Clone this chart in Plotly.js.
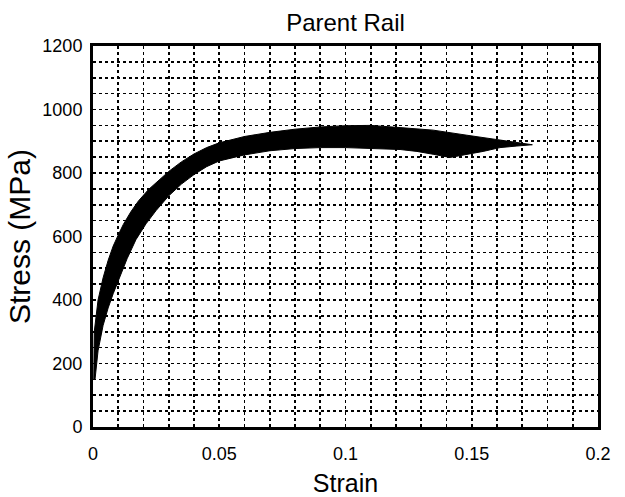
<!DOCTYPE html>
<html>
<head>
<meta charset="utf-8">
<script src="https://cdn.plot.ly/plotly-3.0.1.min.js"></script>
<style>html,body{margin:0;padding:0;background:#fff;}#chart{width:625px;height:497px;}</style>
</head>
<body>
<div id="chart"></div>
<script>
// Upper (left) edge of the stress-strain band, from origin to tip
const upperStrain = [0.0003, 0.0005, 0.002, 0.004, 0.006, 0.008, 0.010, 0.012, 0.015, 0.018, 0.022, 0.026, 0.030, 0.035, 0.040, 0.045, 0.05, 0.06, 0.07, 0.08, 0.09, 0.1, 0.11, 0.1216, 0.1347, 0.1481, 0.1612, 0.174];
const upperStress = [150, 300, 400, 470, 525, 570, 605, 638, 678, 712, 748, 778, 805, 835, 860, 880, 895, 915, 928, 938, 945, 949, 950, 943, 935, 919, 904, 889];
// Lower (right) edge of the band, from tip back to origin
const lowerStrain = [0.174, 0.1679, 0.1612, 0.1545, 0.1481, 0.1414, 0.1347, 0.1283, 0.1216, 0.11, 0.1, 0.09, 0.08, 0.07, 0.06, 0.05, 0.045, 0.04, 0.035, 0.03, 0.025, 0.021, 0.017, 0.0135, 0.0107, 0.008, 0.006, 0.004, 0.002, 0.0008];
const lowerStress = [889, 885, 880, 868, 859, 849, 859, 868, 874, 878, 880, 880, 877, 870, 857, 838, 820, 795, 765, 728, 682, 640, 590, 530, 475, 420, 375, 320, 240, 150];

const xTickVals = [0, 0.05, 0.1, 0.15, 0.2];
const xTickText = ['0', '0.05', '0.1', '0.15', '0.2'];
const yTickVals = [0, 200, 400, 600, 800, 1000, 1200];
const yTickText = ['0', '200', '400', '600', '800', '1000', '1200'];

const bandX = upperStrain.concat(lowerStrain);
const bandY = upperStress.concat(lowerStress);

const font = 'Liberation Sans, Arial, Helvetica, sans-serif';

const trace = {
  x: bandX, y: bandY, type: 'scatter', mode: 'lines',
  fill: 'toself', fillcolor: '#000', line: {color: '#000', width: 1},
  hoverinfo: 'skip', showlegend: false
};

const gridCommon = {
  showgrid: true, gridcolor: '#000', gridwidth: 1.6, griddash: 'dot',
  showline: true, linecolor: '#000', linewidth: 3, mirror: true,
  zeroline: false, ticks: '', tickfont: {family: font, size: 18, color: '#000'}
};

const layout = {
  width: 625, height: 497,
  margin: {l: 93, r: 27, t: 46, b: 70},
  paper_bgcolor: '#fff', plot_bgcolor: '#fff',
  title: {text: 'Parent Rail', font: {family: font, size: 24, color: '#000'}, x: 0.5, xref: 'paper', y: 0.955, yref: 'container', yanchor: 'middle'},
  xaxis: Object.assign({}, gridCommon, {
    range: [0, 0.2], tickmode: 'array', tickvals: xTickVals, ticktext: xTickText,
    ticklabelstandoff: 8,
    minor: {dtick: 0.01, showgrid: true, gridcolor: '#000', gridwidth: 1.6, griddash: 'dot', ticks: ''},
    title: {text: 'Strain', font: {family: font, size: 25, color: '#000'}, standoff: 15}
  }),
  yaxis: Object.assign({}, gridCommon, {
    range: [0, 1200], tickmode: 'array', tickvals: yTickVals, ticktext: yTickText,
    ticklabelstandoff: 4,
    minor: {dtick: 50, showgrid: true, gridcolor: '#000', gridwidth: 1.6, griddash: 'dot', ticks: ''},
    title: {text: 'Stress (MPa)', font: {family: font, size: 30, color: '#000'}, standoff: 3}
  })
};

Plotly.newPlot('chart', [trace], layout, {staticPlot: true, displayModeBar: false});
</script>
</body>
</html>
